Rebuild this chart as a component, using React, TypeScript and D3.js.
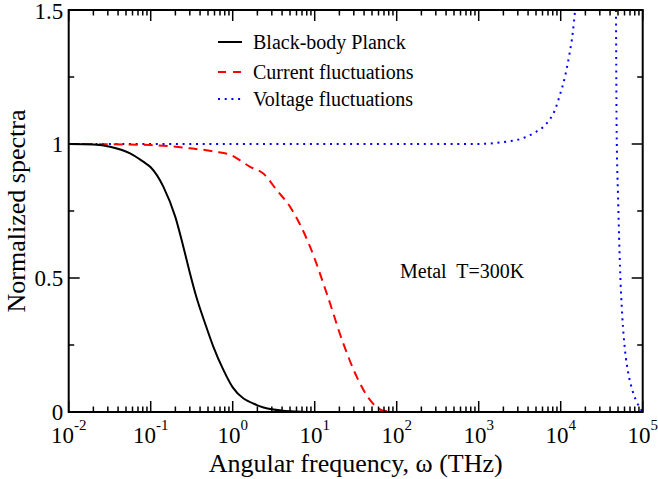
import React from "react";
import * as d3 from "d3";

const WIDTH = 658;
const HEIGHT = 479;
const MARGIN = {left: 68.7, right: 15.3, top: 10, bottom: 67};
const FONT = "Liberation Serif, DejaVu Serif, serif";

// black-body Planck spectrum (omega in THz, normalized value)
const planckW = [0.01, 0.02, 0.032, 0.056, 0.081, 0.1, 0.143, 0.2, 0.25, 0.3, 0.36, 0.46, 0.58, 0.77, 1, 2, 3, 4.1, 6, 10, 100];
const planckV = [1.0, 0.998, 0.99, 0.965, 0.934, 0.913, 0.84, 0.727, 0.617, 0.52, 0.43, 0.331, 0.244, 0.157, 0.092, 0.025, 0.01, 0.005, 0.002, 0.0, 0.0];

// current fluctuations
const currentW = [0.01, 0.03, 0.1, 0.3, 0.6, 0.93, 1.63, 2.36, 3.44, 5, 8.77, 14, 22.3, 32.5, 47.2, 68.7, 100, 1000];
const currentV = [1.0, 0.999, 0.996, 0.984, 0.972, 0.96, 0.915, 0.89, 0.828, 0.766, 0.617, 0.443, 0.256, 0.132, 0.045, 0.005, 0.0, 0.0];

// voltage fluctuations, two branches (the curve leaves the plot above 1.5)
const voltageLowW = [0.01, 0.1, 1, 10, 100, 1000, 1500, 2193, 3190, 4640, 6745, 8510, 9780, 11270, 12730, 14000, 14920, 15100];
const voltageLowV = [1.0, 1.0, 1.0, 1.0, 1.0, 1.0, 1.003, 1.009, 1.018, 1.04, 1.077, 1.127, 1.183, 1.251, 1.332, 1.413, 1.494, 1.51];
const voltageHighW = [47250, 48150, 50200, 52840, 56400, 60800, 66800, 74700, 84500, 92900, 100000];
const voltageHighV = [1.5, 1.04, 0.79, 0.542, 0.356, 0.231, 0.144, 0.082, 0.038, 0.014, 0.0];

const yMajor = [0, 0.5, 1, 1.5];
const yMinor = [0.25, 0.75, 1.25];
const xDomain = [0.01, 100000];

const legendItems = [
    {label: "Black-body Planck", color: "#000", dash: "none", y: 42},
    {label: "Current fluctuations", color: "#f00", dash: "8,7", y: 72},
    {label: "Voltage fluctuations", color: "#00f", dash: "2,4.7", y: 99},
];

export default function App() {
    const iw = WIDTH - MARGIN.left - MARGIN.right;
    const ih = HEIGHT - MARGIN.top - MARGIN.bottom;
    const x = d3.scaleLog().domain(xDomain).range([MARGIN.left, MARGIN.left + iw]);
    const y = d3.scaleLinear().domain([0, 1.5]).range([MARGIN.top + ih, MARGIN.top]);

    const line = d3.line<[number, number]>()
        .x(d => x(d[0]))
        .y(d => y(d[1]))
        .curve(d3.curveMonotoneX);

    const zip = (w: number[], v: number[]) => w.map((d, i) => [d, v[i]] as [number, number]);

    const allTicks = x.ticks();
    const decades = allTicks.filter(t => Math.abs(Math.log10(t) - Math.round(Math.log10(t))) < 1e-9);
    const minors = allTicks.filter(t => !decades.includes(t));

    const top = MARGIN.top;
    const bottom = MARGIN.top + ih;
    const left = MARGIN.left;
    const right = MARGIN.left + iw;
    const exp = (t: number) => {
        const e = Math.round(Math.log10(t));
        return e < 0 ? "-" + Math.abs(e) : String(e);
    };

    return (
        <svg width={WIDTH} height={HEIGHT} style={{position: "absolute", left: 0, top: 0, background: "#fff", fontFamily: FONT}}>
            <defs>
                <clipPath id="plot">
                    <rect x={left} y={top} width={iw} height={ih}/>
                </clipPath>
            </defs>
            <rect x={0} y={0} width={WIDTH} height={HEIGHT} fill="#fff"/>

            <g clipPath="url(#plot)" fill="none">
                <path d={line(zip(voltageLowW, voltageLowV)) || ""} stroke="#00f" strokeWidth={2} strokeDasharray="2,4.7"/>
                <path d={line(zip(voltageHighW, voltageHighV)) || ""} stroke="#00f" strokeWidth={2} strokeDasharray="2,4.7"/>
                <path d={line(zip(currentW, currentV)) || ""} stroke="#f00" strokeWidth={2} strokeDasharray="9,6"/>
                <path d={line(zip(planckW, planckV)) || ""} stroke="#000" strokeWidth={2}/>
            </g>

            {/* ticks */}
            <g stroke="#000" strokeWidth={1.5}>
                {decades.map(t => (
                    <g key={"xd" + t}>
                        <line x1={x(t)} x2={x(t)} y1={bottom} y2={bottom - 11}/>
                        <line x1={x(t)} x2={x(t)} y1={top} y2={top + 11}/>
                    </g>
                ))}
                {minors.map(t => (
                    <g key={"xm" + t}>
                        <line x1={x(t)} x2={x(t)} y1={bottom} y2={bottom - 5.5}/>
                        <line x1={x(t)} x2={x(t)} y1={top} y2={top + 5.5}/>
                    </g>
                ))}
                {yMajor.map(t => (
                    <g key={"yd" + t}>
                        <line x1={left} x2={left + 11} y1={y(t)} y2={y(t)}/>
                        <line x1={right} x2={right - 11} y1={y(t)} y2={y(t)}/>
                    </g>
                ))}
                {yMinor.map(t => (
                    <g key={"ym" + t}>
                        <line x1={left} x2={left + 5.5} y1={y(t)} y2={y(t)}/>
                        <line x1={right} x2={right - 5.5} y1={y(t)} y2={y(t)}/>
                    </g>
                ))}
            </g>
            <rect x={left} y={top} width={iw} height={ih} fill="none" stroke="#000" strokeWidth={2}/>

            {/* tick labels */}
            <g fontSize={23} fill="#000" fontFamily={FONT}>
                {yMajor.map(t => (
                    <text key={"yl" + t} x={left - 5.5} y={y(t) + (t === 1.5 ? 1.5 : 0)} dy="0.34em" textAnchor="end">{String(t)}</text>
                ))}
                {decades.map(t => (
                    <text key={"xl" + t} x={x(t)} y={443} textAnchor="middle">
                        10<tspan fontSize={15} dy={-13}>{exp(t)}</tspan>
                    </text>
                ))}
            </g>

            {/* axis titles */}
            <text x={(left + right) / 2} y={472} fontSize={26} textAnchor="middle" fontFamily={FONT}>Angular frequency, ω (THz)</text>
            <text transform={`translate(25,${(top + bottom) / 2}) rotate(-90)`} fontSize={26} textAnchor="middle" fontFamily={FONT}>Normalized spectra</text>

            {/* legend */}
            {legendItems.map(item => (
                <g key={item.label}>
                    <line x1={218} x2={242} y1={item.y} y2={item.y} stroke={item.color} strokeWidth={2}
                          strokeDasharray={item.dash}/>
                    <text x={253} y={item.y} dy="0.34em" fontSize={20} fontFamily={FONT}>{item.label}</text>
                </g>
            ))}

            <text x={400} y={278} fontSize={20} fontFamily={FONT} style={{whiteSpace: "pre"}}>{"Metal  T=300K"}</text>
        </svg>
    );
}
